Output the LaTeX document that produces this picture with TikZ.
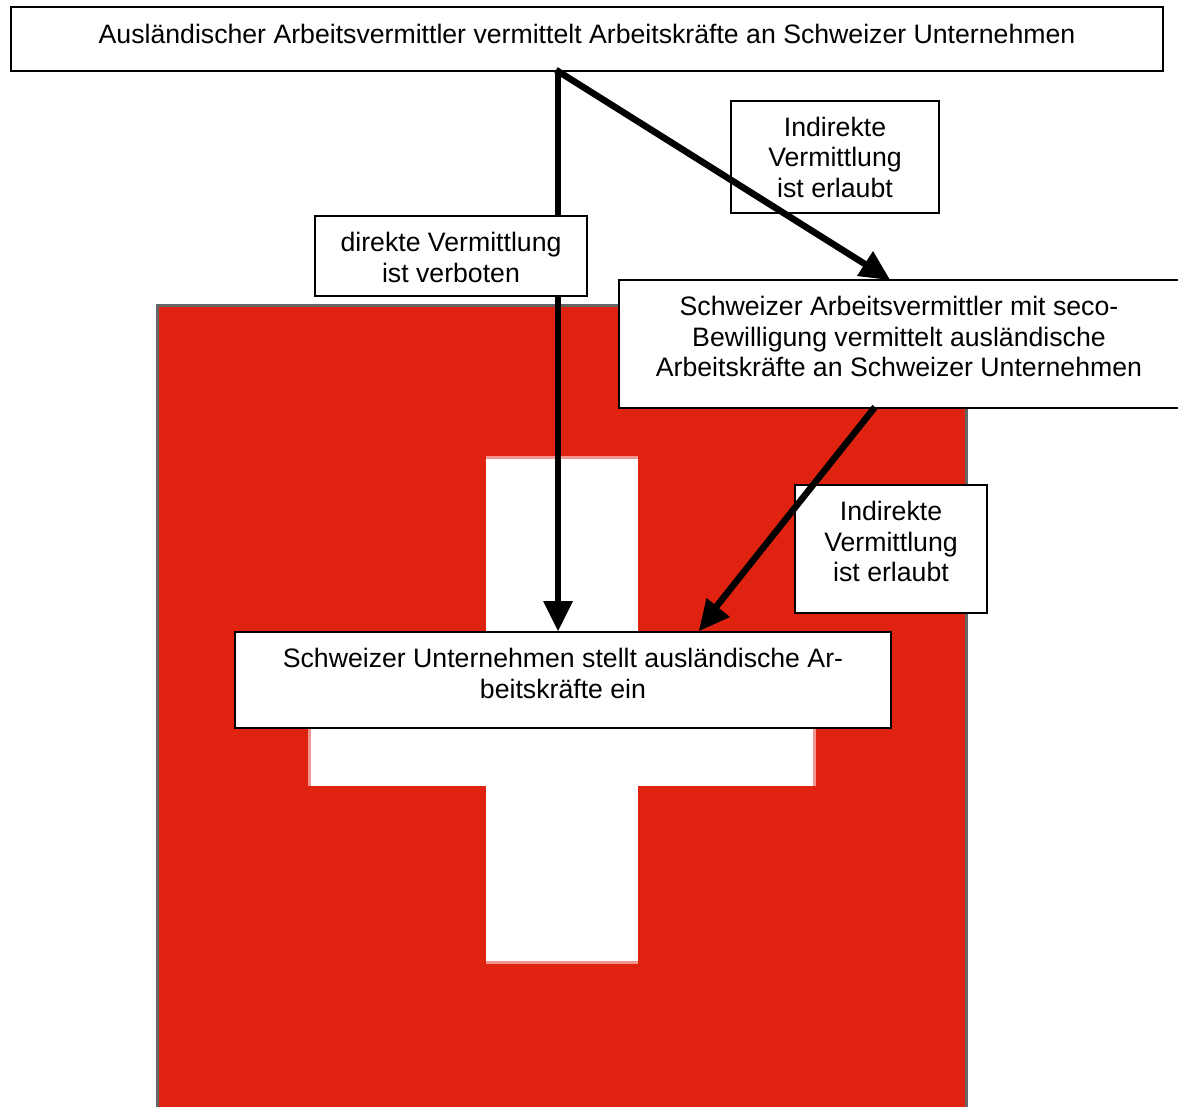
\documentclass[tikz,border=0pt]{standalone}
\usepackage{fontspec}
\setmainfont{Liberation Sans}
\definecolor{flagred}{RGB}{224,35,17}
\definecolor{flagedge}{RGB}{102,102,102}
\definecolor{crossedge}{RGB}{240,150,145}
\newcommand\lowstrut[1]{\rule[-#1]{0pt}{0pt}}
\newcommand\highstrut[1]{\rule{0pt}{#1}}
\tikzset{
  px/.style={x=0.75pt,y=-0.75pt},
  txtbox/.style={draw=black,line width=1.5pt,fill=white,align=center,inner sep=0pt,outer sep=0pt,anchor=north west,font=\fontsize{20pt}{22.9pt}\selectfont},
  bigarrow/.style={line width=4.9pt,draw=black},
  headfill/.style={fill=black,draw=none}
}
\begin{document}
\begin{tikzpicture}[px]
\useasboundingbox (0,0) rectangle (1178,1107);
\path[clip] (0,0) rectangle (1178,1107);
\fill[white] (0,0) rectangle (1178,1107);
% flag
\fill[flagedge] (156,304) rectangle (968,1107);
\fill[flagred] (159,307) rectangle (965,1107);
\fill[crossedge] (486,456) rectangle (638,964);
\fill[crossedge] (308,634) rectangle (816,786);
\fill[white] (486,459) rectangle (638,961);
\fill[white] (311,634) rectangle (813,786);
% vertical arrow shaft is beneath the label box
\coordinate (start) at (556,70);
\coordinate (vtop) at (558,71);
\coordinate (vend) at (558,631);
\draw[bigarrow] (vtop) -- (558,604);
\node[txtbox,minimum width=272*0.75pt,minimum height=80*0.75pt] (direkt) at (315,216) {\highstrut{16.4pt}direkte Vermittlung\\ist verboten};
\node[txtbox,minimum width=1152*0.75pt,minimum height=64*0.75pt] (top) at (11,7) {Ausländischer Arbeitsvermittler vermittelt Arbeitskräfte an Schweizer Unternehmen\lowstrut{7.5pt}};
\node[txtbox,minimum width=208*0.75pt,minimum height=112*0.75pt] (ind1) at (731,101) {\highstrut{15pt}Indirekte\\Vermittlung\\ist erlaubt};
\node[txtbox,minimum width=560*0.75pt,minimum height=128*0.75pt] (secobox) at (619,280) {Schweizer Arbeitsvermittler mit seco-\\Bewilligung vermittelt ausländische\\Arbeitskräfte an Schweizer Unternehmen\lowstrut{11pt}};
\node[txtbox,minimum width=192*0.75pt,minimum height=128*0.75pt] (ind2) at (795,485) {Indirekte\\Vermittlung\\ist erlaubt\lowstrut{11pt}};
\node[txtbox,minimum width=656*0.75pt,minimum height=96*0.75pt] (firm) at (235,632) {Schweizer Unternehmen stellt ausländische Ar-\\beitskräfte ein\lowstrut{10pt}};
% arrows
\fill[headfill] (vend) -- (543,601) -- (573,601) -- cycle;
\draw[bigarrow] (start) -- (868,266);
\fill[headfill] (890,280) -- (857,276) -- (873,251) -- cycle;
\draw[bigarrow] (875,407) -- (716,607);
\fill[headfill] (699,631) -- (706.5,598) -- (730,617) -- cycle;
\end{tikzpicture}
\end{document}
